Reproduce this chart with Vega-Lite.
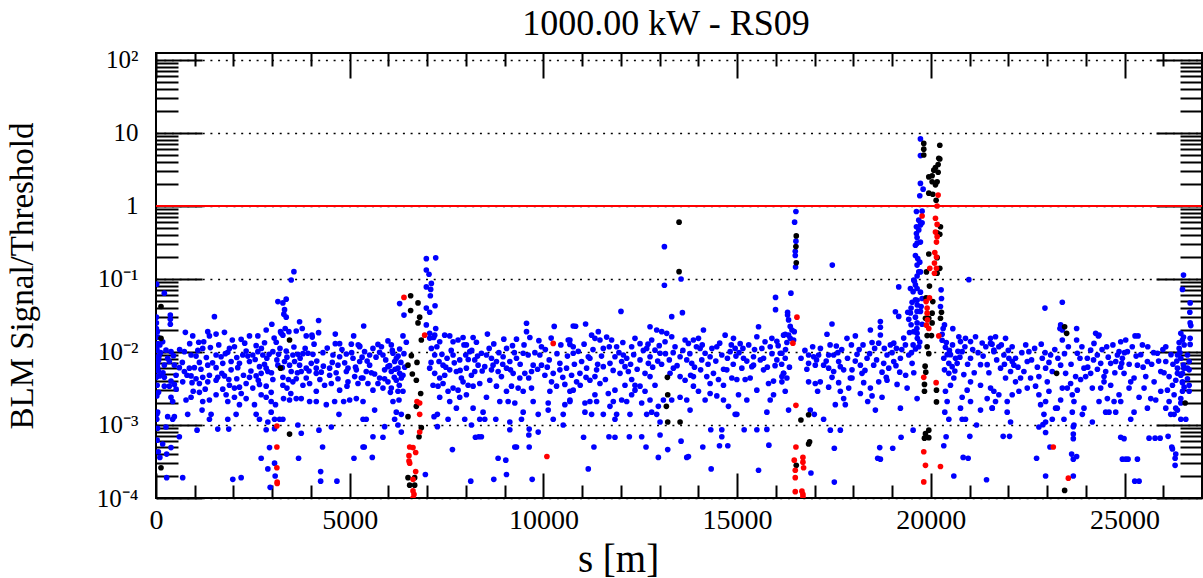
{
"$schema":"https://vega.github.io/schema/vega-lite/v6.json",
"width":1046,"height":445,
"autosize":{"type":"none"},
"padding":{"left":156,"top":53,"right":1,"bottom":80},
"background":"white",
"config":{"view":{"stroke":"black","strokeWidth":2},"axis":{"labelFont":"Liberation Serif","labelFontSize":25,"labelColor":"black","tickColor":"black","titleFont":"Liberation Serif","titleFontSize":33,"titleFontWeight":"normal","titleColor":"black","domain":false,"grid":false}},
"title":{"text":"1000.00 kW - RS09","font":"Liberation Serif","fontSize":36,"fontWeight":"normal","color":"black","anchor":"middle","offset":5,"dx":-13},
"datasets":{
"blue":[
{"s":17,"v":0.085},{"s":215,"v":0.064},{"s":370,"v":0.032},{"s":370,"v":0.028},{"s":370,"v":0.024},{"s":10,"v":0.030},{"s":10,"v":0.025},{"s":10,"v":0.021},{"s":1508,"v":0.0305},{"s":3560,"v":0.126},{"s":3490,"v":0.097},{"s":3146,"v":0.049},{"s":3275,"v":0.047},{"s":3361,"v":0.053},{"s":3318,"v":0.038},{"s":3361,"v":0.030},{"s":3300,"v":0.033},{"s":3706,"v":0.026},{"s":3335,"v":0.021},{"s":3215,"v":0.019},{"s":3275,"v":0.017},
{"s":758,"v":0.0186},{"s":948,"v":0.0166},{"s":1103,"v":0.0136},{"s":1232,"v":0.0138},{"s":1336,"v":0.019},{"s":1379,"v":0.0166},{"s":1551,"v":0.0176},{"s":1767,"v":0.0186},{"s":2025,"v":0.0118},{"s":2198,"v":0.0149},{"s":2413,"v":0.0166},{"s":2629,"v":0.0166},{"s":2801,"v":0.0134},{"s":2844,"v":0.020},{"s":2990,"v":0.024},{"s":3103,"v":0.0136},{"s":3232,"v":0.018},{"s":3430,"v":0.019},{"s":3620,"v":0.0194},{"s":3775,"v":0.021},{"s":3878,"v":0.0166},{"s":4025,"v":0.0171},{"s":4197,"v":0.027},{"s":4197,"v":0.0184},{"s":4033,"v":0.016},{"s":4309,"v":0.0098},{"s":4628,"v":0.0176},{"s":4740,"v":0.013},{"s":5102,"v":0.0166},{"s":5258,"v":0.0121},{"s":5361,"v":0.0227},{"s":4628,"v":0.013},{"s":5042,"v":0.0128},{"s":2585,"v":0.0122},{"s":2327,"v":0.0103},
{"s":172,"v":0.0138},{"s":17,"v":0.0112},{"s":258,"v":0.0106},{"s":387,"v":0.0101},{"s":732,"v":0.0101},{"s":905,"v":0.0091},{"s":1034,"v":0.0088},{"s":1206,"v":0.0112},{"s":1404,"v":0.0115},{"s":1551,"v":0.0091},{"s":1680,"v":0.0086},{"s":1853,"v":0.0099},{"s":1896,"v":0.0112},{"s":2085,"v":0.0084},{"s":2240,"v":0.0091},{"s":2370,"v":0.0088},{"s":2499,"v":0.0091},{"s":2629,"v":0.0101},{"s":2758,"v":0.0091},{"s":2861,"v":0.0082},{"s":3016,"v":0.0101},{"s":3163,"v":0.0093},{"s":3361,"v":0.0103},{"s":3533,"v":0.0091},{"s":3663,"v":0.0093},{"s":3792,"v":0.0095},{"s":3921,"v":0.0096},{"s":4051,"v":0.0093},{"s":4568,"v":0.0091},{"s":4740,"v":0.0086},{"s":4913,"v":0.0094},{"s":5085,"v":0.0082},{"s":5258,"v":0.0074},
{"s":43,"v":0.0070},{"s":215,"v":0.0066},{"s":344,"v":0.0074},{"s":474,"v":0.0066},{"s":603,"v":0.0061},{"s":861,"v":0.0060},{"s":991,"v":0.0061},{"s":1120,"v":0.0072},{"s":1336,"v":0.0066},{"s":1551,"v":0.0061},{"s":1723,"v":0.0070},{"s":1939,"v":0.0074},{"s":2154,"v":0.0070},{"s":2413,"v":0.0074},{"s":2671,"v":0.0063},{"s":2844,"v":0.0060},{"s":3146,"v":0.0066},{"s":3318,"v":0.0074},{"s":3447,"v":0.0066},{"s":3577,"v":0.0074},{"s":3706,"v":0.0066},{"s":3878,"v":0.0060},{"s":4008,"v":0.0070},{"s":4137,"v":0.0060},{"s":4482,"v":0.0060},{"s":4697,"v":0.0066},{"s":4956,"v":0.0060},{"s":5171,"v":0.0057},
{"s":10,"v":0.0046},{"s":215,"v":0.0045},{"s":387,"v":0.0040},{"s":517,"v":0.0048},{"s":732,"v":0.0054},{"s":905,"v":0.0047},{"s":1034,"v":0.0043},{"s":1206,"v":0.0045},{"s":1379,"v":0.0048},{"s":1594,"v":0.0045},{"s":1767,"v":0.0047},{"s":1939,"v":0.0057},{"s":2085,"v":0.0043},{"s":2258,"v":0.0048},{"s":2413,"v":0.0045},{"s":2585,"v":0.0047},{"s":2715,"v":0.0051},{"s":2887,"v":0.0054},{"s":3016,"v":0.0042},{"s":3275,"v":0.0045},{"s":3490,"v":0.0054},{"s":3620,"v":0.0043},{"s":3749,"v":0.0054},{"s":3878,"v":0.0044},{"s":4137,"v":0.0051},{"s":4266,"v":0.0053},{"s":4482,"v":0.0048},{"s":4697,"v":0.0043},{"s":4913,"v":0.0054},{"s":5128,"v":0.0046},{"s":5300,"v":0.0044},
{"s":215,"v":0.0034},{"s":344,"v":0.0034},{"s":474,"v":0.0036},{"s":689,"v":0.0039},{"s":930,"v":0.0038},{"s":1120,"v":0.0037},{"s":1336,"v":0.0039},{"s":1551,"v":0.0041},{"s":1723,"v":0.0031},{"s":1896,"v":0.0035},{"s":2025,"v":0.0032},{"s":2154,"v":0.0033},{"s":2327,"v":0.0037},{"s":2499,"v":0.0032},{"s":2671,"v":0.0036},{"s":2844,"v":0.0034},{"s":2973,"v":0.0028},{"s":3275,"v":0.0035},{"s":3533,"v":0.0039},{"s":3792,"v":0.0035},{"s":3965,"v":0.0037},{"s":4137,"v":0.0029},{"s":4352,"v":0.0035},{"s":4525,"v":0.0037},{"s":4740,"v":0.0030},{"s":4956,"v":0.0039},{"s":5214,"v":0.0037},
{"s":387,"v":0.0024},{"s":430,"v":0.0021},{"s":775,"v":0.0022},{"s":905,"v":0.0024},{"s":1120,"v":0.0028},{"s":1206,"v":0.0021},{"s":1379,"v":0.0022},{"s":1551,"v":0.0026},{"s":1810,"v":0.0026},{"s":1853,"v":0.0021},{"s":2025,"v":0.0024},{"s":2154,"v":0.0019},{"s":2327,"v":0.0023},{"s":2542,"v":0.0019},{"s":2715,"v":0.0026},{"s":2844,"v":0.0024},{"s":2973,"v":0.0021},{"s":3085,"v":0.0019},{"s":3292,"v":0.0023},{"s":3447,"v":0.0022},{"s":3620,"v":0.0023},{"s":3749,"v":0.0023},{"s":3965,"v":0.0021},{"s":4137,"v":0.0021},{"s":4396,"v":0.0019},{"s":4611,"v":0.0021},{"s":4844,"v":0.0021},{"s":4999,"v":0.0022},{"s":5171,"v":0.0023},{"s":5344,"v":0.0021},
{"s":43,"v":0.0015},{"s":301,"v":0.0013},{"s":430,"v":0.0012},{"s":474,"v":0.0013},{"s":818,"v":0.0014},{"s":1189,"v":0.0016},{"s":1379,"v":0.0012},{"s":1422,"v":0.0014},{"s":1853,"v":0.0012},{"s":2068,"v":0.0014},{"s":2585,"v":0.0014},{"s":2671,"v":0.0012},{"s":2887,"v":0.0011},{"s":2973,"v":0.0015},{"s":3060,"v":0.0012},{"s":3189,"v":0.0012},{"s":3275,"v":0.0012},{"s":3663,"v":0.0010},{"s":3749,"v":0.00077},{"s":4206,"v":0.00085},{"s":4525,"v":0.00094},{"s":4723,"v":0.0014},{"s":5344,"v":0.0012},{"s":258,"v":0.00094},{"s":1060,"v":0.00085},{"s":1594,"v":0.00088},{"s":1878,"v":0.00088},{"s":2844,"v":0.00086},{"s":3060,"v":0.00089},
{"s":603,"v":0.00069},{"s":172,"v":0.00055},{"s":387,"v":0.00049},{"s":275,"v":0.0004},{"s":275,"v":0.00019},{"s":689,"v":0.00019},{"s":1982,"v":0.00018},{"s":2198,"v":0.00019},{"s":2930,"v":0.00049},{"s":2715,"v":0.00035},{"s":2887,"v":0.00025},{"s":3060,"v":0.0003},{"s":3076,"v":0.0002},{"s":2947,"v":0.00014},{"s":3680,"v":0.00035},{"s":4300,"v":0.0005},{"s":4250,"v":0.00023},{"s":4250,"v":0.00017},{"s":4670,"v":0.00017},{"s":5110,"v":0.00035},{"s":5344,"v":0.0005},
{"s":20,"v":0.0012},{"s":40,"v":0.0009},{"s":10,"v":0.0045},{"s":30,"v":0.0035},{"s":60,"v":0.0055},{"s":15,"v":0.0065},{"s":70,"v":0.0078},{"s":25,"v":0.0105},{"s":50,"v":0.013},{"s":80,"v":0.0088},{"s":10,"v":0.016},{"s":35,"v":0.019},{"s":100,"v":0.0125},{"s":90,"v":0.0047},{"s":65,"v":0.0028},{"s":40,"v":0.0062},{"s":20,"v":0.0014},{"s":30,"v":0.00062},{"s":60,"v":0.00043},{"s":100,"v":0.00036},{"s":20,"v":0.0025},{"s":30,"v":0.006},{"s":40,"v":0.0075},{"s":20,"v":0.0085},{"s":50,"v":0.016},
{"s":5255,"v":0.0118},{"s":5384,"v":0.0101},{"s":5514,"v":0.0091},{"s":5600,"v":0.0112},{"s":5729,"v":0.0127},{"s":5772,"v":0.0099},{"s":5858,"v":0.0091},{"s":5987,"v":0.0142},{"s":6074,"v":0.0125},{"s":6117,"v":0.0096},{"s":6203,"v":0.0082},{"s":6289,"v":0.011},{"s":6375,"v":0.0166},{"s":6461,"v":0.0136},{"s":6160,"v":0.0074},{"s":6246,"v":0.006},{"s":6289,"v":0.0051},{"s":6375,"v":0.0048},{"s":6332,"v":0.0044},{"s":6203,"v":0.0041},{"s":6074,"v":0.0054},{"s":5987,"v":0.0063},{"s":5901,"v":0.0057},{"s":5772,"v":0.0044},{"s":5643,"v":0.005},{"s":5514,"v":0.0066},{"s":5427,"v":0.0054},{"s":5341,"v":0.0044},{"s":5470,"v":0.0037},{"s":5600,"v":0.003},{"s":5729,"v":0.0037},{"s":5858,"v":0.0032},{"s":5987,"v":0.0039},{"s":6074,"v":0.0032},{"s":6246,"v":0.0029},{"s":6375,"v":0.0029},{"s":6117,"v":0.0021},{"s":6203,"v":0.0015},{"s":6332,"v":0.0014},{"s":6160,"v":0.0012},{"s":6246,"v":0.001},{"s":5643,"v":0.0016},{"s":5427,"v":0.0012},{"s":5901,"v":0.00095},{"s":5600,"v":0.00069},{"s":5858,"v":0.00068},{"s":5376,"v":0.0005},{"s":5583,"v":0.00036},{"s":6332,"v":0.0008},{"s":6272,"v":0.0022},
{"s":7065,"v":0.0155},{"s":7168,"v":0.0158},{"s":7323,"v":0.0138},{"s":7452,"v":0.017},{"s":7582,"v":0.0166},{"s":7668,"v":0.0138},{"s":7797,"v":0.0146},{"s":7926,"v":0.0158},{"s":8012,"v":0.0125},{"s":8185,"v":0.0158},{"s":8271,"v":0.0136},{"s":7108,"v":0.0112},{"s":7194,"v":0.0091},{"s":7306,"v":0.0074},{"s":7409,"v":0.0066},{"s":7513,"v":0.0082},{"s":7668,"v":0.0091},{"s":7840,"v":0.0078},{"s":7995,"v":0.0091},{"s":8099,"v":0.0101},{"s":8228,"v":0.0078},{"s":8314,"v":0.0066},{"s":7065,"v":0.006},{"s":7194,"v":0.0051},{"s":7323,"v":0.0044},{"s":7452,"v":0.0048},{"s":7582,"v":0.0057},{"s":7754,"v":0.0054},{"s":7883,"v":0.0044},{"s":8012,"v":0.006},{"s":8142,"v":0.0048},{"s":8228,"v":0.0054},{"s":7151,"v":0.0035},{"s":7280,"v":0.0034},{"s":7409,"v":0.0037},{"s":7539,"v":0.0029},{"s":7668,"v":0.0032},{"s":7797,"v":0.003},{"s":7926,"v":0.0039},{"s":8056,"v":0.0035},{"s":8185,"v":0.0034},{"s":8357,"v":0.0037},{"s":7323,"v":0.0024},{"s":7582,"v":0.0021},{"s":7840,"v":0.0024},{"s":8012,"v":0.0026},{"s":7754,"v":0.0017},{"s":8185,"v":0.0017},{"s":8443,"v":0.0015},{"s":7177,"v":0.0013},{"s":7263,"v":0.0014},{"s":7539,"v":0.0012},{"s":7969,"v":0.0012},{"s":8142,"v":0.001},{"s":8357,"v":0.0012},{"s":7263,"v":0.00095},
{"s":8555,"v":0.0176},{"s":8719,"v":0.0129},{"s":8978,"v":0.015},{"s":9202,"v":0.0122},{"s":9305,"v":0.015},{"s":9564,"v":0.0248},{"s":9564,"v":0.019},{"s":9650,"v":0.0158},{"s":9883,"v":0.0143},{"s":8400,"v":0.0096},{"s":8530,"v":0.0091},{"s":8659,"v":0.0082},{"s":8788,"v":0.0074},{"s":8960,"v":0.0086},{"s":9133,"v":0.0074},{"s":9305,"v":0.0082},{"s":9478,"v":0.0096},{"s":9607,"v":0.0091},{"s":9736,"v":0.0066},{"s":8486,"v":0.0063},{"s":8659,"v":0.0057},{"s":8831,"v":0.0054},{"s":8917,"v":0.0046},{"s":9047,"v":0.006},{"s":9219,"v":0.0051},{"s":9391,"v":0.0044},{"s":9520,"v":0.0051},{"s":9693,"v":0.0054},{"s":8616,"v":0.0041},{"s":8788,"v":0.0034},{"s":9047,"v":0.0029},{"s":9176,"v":0.0034},{"s":9348,"v":0.0032},{"s":9478,"v":0.0029},{"s":9693,"v":0.0032},{"s":8530,"v":0.0024},{"s":8874,"v":0.0021},{"s":9090,"v":0.0021},{"s":9262,"v":0.002},{"s":9478,"v":0.0015},{"s":9736,"v":0.0021},{"s":8486,"v":0.0012},{"s":8771,"v":0.0012},{"s":9133,"v":0.0011},{"s":9133,"v":0.00086},{"s":9434,"v":0.0012},{"s":9633,"v":0.00088},{"s":9624,"v":0.00073},{"s":9866,"v":0.0008},{"s":9866,"v":0.0014},
{"s":10279,"v":0.0224},{"s":10770,"v":0.0227},{"s":10150,"v":0.0078},{"s":10425,"v":0.007},{"s":10597,"v":0.006},{"s":10727,"v":0.0048},{"s":10253,"v":0.0051},{"s":10425,"v":0.0057},{"s":10210,"v":0.0039},{"s":10339,"v":0.0034},{"s":10554,"v":0.0036},{"s":10684,"v":0.0029},{"s":10167,"v":0.0029},{"s":10684,"v":0.0021},{"s":10124,"v":0.002},{"s":10124,"v":0.0016},{"s":10554,"v":0.0019},{"s":10511,"v":0.0014},{"s":10253,"v":0.0012},{"s":10511,"v":0.001},{"s":10770,"v":0.0096},{"s":10684,"v":0.0127},{"s":10641,"v":0.0146},{"s":9908,"v":0.0091},{"s":9951,"v":0.0066},{"s":10038,"v":0.0048},
{"s":7651,"v":0.00046},{"s":8245,"v":0.00068},{"s":8331,"v":0.00069},{"s":8400,"v":0.00069},{"s":8831,"v":0.00035},{"s":9029,"v":0.00033},{"s":9047,"v":0.00021},{"s":9262,"v":0.0005},{"s":9305,"v":0.0005},{"s":9633,"v":0.0005},{"s":8719,"v":0.00018},{"s":9710,"v":0.00018},{"s":8125,"v":0.00017},{"s":6953,"v":0.00021},
{"s":7220,"v":0.195},{"s":6978,"v":0.19},{"s":6978,"v":0.133},{"s":7047,"v":0.116},{"s":7108,"v":0.087},{"s":7090,"v":0.072},{"s":6978,"v":0.078},{"s":7082,"v":0.059},{"s":7203,"v":0.043},{"s":7065,"v":0.035},{"s":6978,"v":0.04},{"s":6289,"v":0.046},{"s":6401,"v":0.032},{"s":6978,"v":0.0235},{"s":7220,"v":0.021},{"s":7065,"v":0.018},{"s":7194,"v":0.017},
{"s":10684,"v":0.0146},{"s":10770,"v":0.0118},{"s":10830,"v":0.0225},{"s":10986,"v":0.0074},{"s":11089,"v":0.0242},{"s":11158,"v":0.0086},{"s":11244,"v":0.017},{"s":11330,"v":0.0154},{"s":11417,"v":0.019},{"s":11460,"v":0.0146},{"s":11546,"v":0.0112},{"s":11632,"v":0.016},{"s":11761,"v":0.0146},{"s":11890,"v":0.0118},{"s":12063,"v":0.0091},{"s":12020,"v":0.0074},{"s":11847,"v":0.0086},{"s":11718,"v":0.007},{"s":11546,"v":0.0063},{"s":11373,"v":0.0057},{"s":11330,"v":0.0046},{"s":11460,"v":0.0037},{"s":11201,"v":0.0041},{"s":11115,"v":0.006},{"s":10943,"v":0.0051},{"s":10856,"v":0.0039},{"s":10770,"v":0.003},{"s":10684,"v":0.0022},{"s":11072,"v":0.002},{"s":11201,"v":0.0021},{"s":11330,"v":0.0026},{"s":11373,"v":0.0021},{"s":11546,"v":0.0014},{"s":11718,"v":0.0018},{"s":11804,"v":0.0021},{"s":12020,"v":0.0022},{"s":12149,"v":0.0021},{"s":11847,"v":0.003},{"s":11977,"v":0.0051},{"s":12192,"v":0.0054},{"s":12278,"v":0.0042},{"s":12364,"v":0.0035},{"s":12106,"v":0.0035},{"s":12278,"v":0.0118},{"s":12364,"v":0.0154},{"s":12494,"v":0.013},{"s":12666,"v":0.0112},{"s":12795,"v":0.0146},{"s":12752,"v":0.0222},{"s":12924,"v":0.02},{"s":13054,"v":0.019},{"s":13183,"v":0.018},{"s":13140,"v":0.0138},{"s":13312,"v":0.0162},{"s":13011,"v":0.0096},{"s":12881,"v":0.0106},{"s":12752,"v":0.0086},{"s":12709,"v":0.007},{"s":12494,"v":0.0078},{"s":12623,"v":0.0051},{"s":12752,"v":0.0046},{"s":12881,"v":0.0035},{"s":12494,"v":0.0034},{"s":12364,"v":0.003},{"s":12623,"v":0.0029},{"s":12752,"v":0.0022},{"s":12537,"v":0.002},{"s":12666,"v":0.0014},{"s":12795,"v":0.0015},{"s":12924,"v":0.0014},{"s":12967,"v":0.0018},{"s":13097,"v":0.0022},{"s":13312,"v":0.0022},{"s":13528,"v":0.0024},{"s":13700,"v":0.0022},{"s":13786,"v":0.0016},{"s":13657,"v":0.0041},{"s":13872,"v":0.0046},{"s":14058,"v":0.0057},{"s":13829,"v":0.007},{"s":13700,"v":0.0078},{"s":13528,"v":0.0086},{"s":13398,"v":0.0118},{"s":13355,"v":0.006},{"s":13269,"v":0.0051},{"s":13528,"v":0.0046},{"s":13743,"v":0.0131},{"s":13657,"v":0.0146},{"s":13872,"v":0.0146},{"s":14002,"v":0.0154},{"s":14131,"v":0.02},{"s":14045,"v":0.0112},{"s":14174,"v":0.0096},{"s":14303,"v":0.0086},{"s":14476,"v":0.0118},{"s":14605,"v":0.0091},{"s":14691,"v":0.017},{"s":14820,"v":0.0101},{"s":14950,"v":0.0112},{"s":14734,"v":0.0057},{"s":14863,"v":0.0044},{"s":14993,"v":0.0042},{"s":15036,"v":0.0026},{"s":15122,"v":0.006},{"s":15208,"v":0.0042},{"s":15337,"v":0.0044},{"s":15423,"v":0.0066},{"s":15509,"v":0.0162},{"s":15423,"v":0.0086},{"s":15553,"v":0.0222},{"s":15639,"v":0.0112},{"s":15682,"v":0.0082},{"s":15854,"v":0.0118},{"s":15897,"v":0.0154},{"s":16026,"v":0.014},{"s":16199,"v":0.017},{"s":16113,"v":0.0096},{"s":16026,"v":0.0078},{"s":16156,"v":0.0046},{"s":15940,"v":0.004},{"s":15811,"v":0.0037},{"s":15682,"v":0.0057},{"s":15509,"v":0.003},{"s":15380,"v":0.0063},{"s":15165,"v":0.0082},{"s":15079,"v":0.013},{"s":14906,"v":0.0154},{"s":14648,"v":0.0035},{"s":14519,"v":0.0042},{"s":14303,"v":0.0027},{"s":14174,"v":0.0022},{"s":14476,"v":0.0025},{"s":14648,"v":0.0022},{"s":14777,"v":0.0018},{"s":14950,"v":0.0014},{"s":15251,"v":0.0022},{"s":15768,"v":0.0015},{"s":15854,"v":0.0022},{"s":15940,"v":0.0026},{"s":16199,"v":0.0051},{"s":14217,"v":0.0046},{"s":14389,"v":0.0051},{"s":14303,"v":0.0037},{"s":14002,"v":0.0029},{"s":13872,"v":0.0034},{"s":14088,"v":0.0078},{"s":12106,"v":0.0063},{"s":12278,"v":0.0026},{"s":11675,"v":0.0027},{"s":12235,"v":0.0014},{"s":11244,"v":0.0014},{"s":11072,"v":0.0015},{"s":11890,"v":0.0014},
{"s":11304,"v":0.0005},{"s":11037,"v":0.00068},{"s":11692,"v":0.00069},{"s":11847,"v":0.00068},{"s":12218,"v":0.00069},{"s":12537,"v":0.00069},{"s":12649,"v":0.0005},{"s":12967,"v":0.00036},{"s":13209,"v":0.00046},{"s":13700,"v":0.00036},{"s":13743,"v":0.00037},{"s":13553,"v":0.0006},{"s":13011,"v":0.00073},{"s":14114,"v":0.0005},{"s":14545,"v":0.00052},{"s":14760,"v":0.00052},{"s":15820,"v":0.00053},{"s":14320,"v":0.00086},{"s":14605,"v":0.00086},{"s":14605,"v":0.00069},{"s":15182,"v":0.00086},{"s":15510,"v":0.00086},{"s":15768,"v":0.00087},{"s":11158,"v":0.00025},{"s":14330,"v":0.00025},{"s":15553,"v":0.00024},{"s":13011,"v":0.0011},{"s":11847,"v":0.0012},{"s":14993,"v":0.0014},
{"s":13123,"v":0.277},{"s":13123,"v":0.082},{"s":13553,"v":0.1},{"s":13312,"v":0.0305},{"s":13588,"v":0.0346},{"s":12002,"v":0.036},{"s":15992,"v":0.056},{"s":15992,"v":0.038},
{"s":16156,"v":0.0096},{"s":16242,"v":0.0082},{"s":16199,"v":0.0051},{"s":16285,"v":0.0044},{"s":16156,"v":0.0039},{"s":16242,"v":0.0029},{"s":16328,"v":0.0016},{"s":16371,"v":0.0154},{"s":16458,"v":0.0146},{"s":16845,"v":0.0091},{"s":16975,"v":0.0086},{"s":17018,"v":0.0066},{"s":17104,"v":0.0091},{"s":16845,"v":0.007},{"s":16845,"v":0.0039},{"s":17018,"v":0.0037},{"s":17078,"v":0.0029},{"s":16889,"v":0.0016},{"s":16992,"v":0.0014},{"s":17233,"v":0.0012},{"s":17320,"v":0.0175},{"s":17449,"v":0.0242},{"s":17561,"v":0.0121},{"s":17363,"v":0.0091},{"s":17492,"v":0.0091},{"s":17621,"v":0.0074},{"s":17664,"v":0.0063},{"s":17750,"v":0.0057},{"s":17836,"v":0.0154},{"s":17966,"v":0.0057},{"s":18052,"v":0.0166},{"s":17923,"v":0.0044},{"s":17880,"v":0.0032},{"s":17750,"v":0.0023},{"s":17664,"v":0.0029},{"s":17621,"v":0.0038},{"s":17363,"v":0.0033},{"s":17535,"v":0.0019},{"s":17793,"v":0.0019},{"s":18095,"v":0.0093},{"s":18224,"v":0.0051},{"s":18267,"v":0.0038},{"s":18181,"v":0.0027},{"s":18371,"v":0.0021},{"s":18440,"v":0.0032},{"s":18483,"v":0.0025},{"s":18569,"v":0.0016},{"s":18698,"v":0.0261},{"s":18698,"v":0.0218},{"s":18483,"v":0.0135},{"s":18440,"v":0.02},{"s":18655,"v":0.0132},{"s":18698,"v":0.0171},{"s":18870,"v":0.0091},{"s":18784,"v":0.007},{"s":18741,"v":0.0053},{"s":18655,"v":0.0039},{"s":18741,"v":0.0024},{"s":18870,"v":0.0041},{"s":18957,"v":0.0125},{"s":19043,"v":0.0132},{"s":19112,"v":0.0112},{"s":19172,"v":0.0307},{"s":19086,"v":0.0356},{"s":19198,"v":0.0053},{"s":19129,"v":0.0036},{"s":19215,"v":0.0017},{"s":19344,"v":0.0125},{"s":19405,"v":0.035},{"s":19474,"v":0.0343},{"s":19431,"v":0.0091},{"s":19517,"v":0.007},{"s":19560,"v":0.0052},{"s":19646,"v":0.0023},{"s":19388,"v":0.0032},{"s":19215,"v":0.0082},{"s":19043,"v":0.0074},{"s":18914,"v":0.006},{"s":18526,"v":0.0066},{"s":18354,"v":0.0082},{"s":18181,"v":0.0066},{"s":17966,"v":0.0044},{"s":17233,"v":0.0066},{"s":17147,"v":0.0039},{"s":17363,"v":0.006},{"s":17492,"v":0.0054},
{"s":20292,"v":0.0145},{"s":20378,"v":0.0116},{"s":20422,"v":0.0092},{"s":20335,"v":0.0082},{"s":20465,"v":0.007},{"s":20551,"v":0.0063},{"s":20353,"v":0.0057},{"s":20465,"v":0.0051},{"s":20594,"v":0.0044},{"s":20508,"v":0.0035},{"s":20378,"v":0.0029},{"s":20422,"v":0.0021},{"s":20361,"v":0.0015},{"s":20465,"v":0.0012},{"s":20766,"v":0.0139},{"s":20895,"v":0.0154},{"s":21025,"v":0.0139},{"s":21154,"v":0.0162},{"s":21326,"v":0.0133},{"s":21542,"v":0.0154},{"s":21628,"v":0.0106},{"s":20809,"v":0.0101},{"s":21025,"v":0.0082},{"s":21283,"v":0.0067},{"s":21455,"v":0.0067},{"s":20680,"v":0.007},{"s":20852,"v":0.0049},{"s":21025,"v":0.0039},{"s":21283,"v":0.0035},{"s":21542,"v":0.0032},{"s":20938,"v":0.003},{"s":20809,"v":0.0024},{"s":21025,"v":0.0021},{"s":20766,"v":0.0017},{"s":21283,"v":0.0016},{"s":21585,"v":0.0017},{"s":21455,"v":0.0023},{"s":20895,"v":0.0012},{"s":20809,"v":0.0012},{"s":21180,"v":0.001},{"s":21007,"v":0.0007},{"s":20568,"v":0.0209},{"s":20353,"v":0.0235},{"s":20723,"v":0.0162},{"s":20508,"v":0.0092},{"s":20637,"v":0.0082},
{"s":17406,"v":0.00085},{"s":17664,"v":0.00085},{"s":17509,"v":0.00048},{"s":18681,"v":0.00049},{"s":18629,"v":0.00035},{"s":18698,"v":0.00034},{"s":19017,"v":0.00048},{"s":19232,"v":0.00068},{"s":19543,"v":0.00085},{"s":20395,"v":0.00069},{"s":20335,"v":0.00052},{"s":20835,"v":0.00036},{"s":20964,"v":0.00035},{"s":20594,"v":0.0002},{"s":21438,"v":0.000178},{"s":16906,"v":0.00022},{"s":17509,"v":0.000165},
{"s":17457,"v":0.155},{"s":19172,"v":0.078},{"s":19474,"v":0.074},{"s":19491,"v":0.0236},{"s":20982,"v":0.098},
{"s":16518,"v":0.84},{"s":16484,"v":0.6},{"s":16518,"v":0.33},{"s":16501,"v":0.24},{"s":16501,"v":0.21},{"s":16509,"v":0.146},{"s":16389,"v":0.064},{"s":16303,"v":0.035},{"s":16328,"v":0.0275},{"s":16303,"v":0.032},{"s":16371,"v":0.0224},{"s":16415,"v":0.02},{"s":16328,"v":0.017},{"s":16242,"v":0.0175},{"s":16475,"v":0.019},{"s":16285,"v":0.0135},
{"s":19732,"v":8.3},{"s":19732,"v":4.9},{"s":19732,"v":2.04},{"s":19715,"v":1.38},{"s":19801,"v":1.7},{"s":19775,"v":0.85},{"s":19629,"v":0.84},{"s":19689,"v":0.64},{"s":19629,"v":0.52},{"s":19732,"v":0.55},{"s":19775,"v":0.59},{"s":19646,"v":0.31},{"s":19603,"v":0.29},{"s":19732,"v":0.32},{"s":19646,"v":0.37},{"s":19603,"v":0.21},{"s":19646,"v":0.155},{"s":19689,"v":0.125},{"s":19560,"v":0.097},{"s":19646,"v":0.11},{"s":19732,"v":0.125},{"s":19715,"v":0.17},{"s":19663,"v":0.19},{"s":19629,"v":0.42},{"s":19689,"v":0.47},{"s":19577,"v":0.093},{"s":19603,"v":0.083},{"s":19646,"v":0.074},{"s":19543,"v":0.067},{"s":19646,"v":0.051},{"s":19650,"v":0.044},{"s":19646,"v":0.036},{"s":19603,"v":0.03},{"s":19646,"v":0.025},{"s":19640,"v":0.021},{"s":19646,"v":0.018},{"s":19652,"v":0.0154},{"s":19732,"v":0.066},{"s":19775,"v":0.054},{"s":19749,"v":0.042},{"s":19732,"v":0.036},{"s":19775,"v":0.024},{"s":19715,"v":0.0137},{"s":19689,"v":0.0118},{"s":19603,"v":0.052},{"s":19517,"v":0.048},{"s":19491,"v":0.04},{"s":19431,"v":0.028},{"s":19560,"v":0.019},{"s":19543,"v":0.0125},{"s":19603,"v":0.011},{"s":20266,"v":0.071},{"s":20249,"v":0.042},{"s":20318,"v":0.021},{"s":20292,"v":0.0175},{"s":20275,"v":0.054},
{"s":21541,"v":0.0131},{"s":21627,"v":0.0101},{"s":21670,"v":0.0162},{"s":21756,"v":0.0118},{"s":21929,"v":0.0154},{"s":21886,"v":0.0091},{"s":22015,"v":0.0082},{"s":22101,"v":0.0074},{"s":22187,"v":0.0082},{"s":22144,"v":0.0066},{"s":22058,"v":0.0054},{"s":21929,"v":0.0044},{"s":21800,"v":0.006},{"s":21627,"v":0.0029},{"s":21670,"v":0.0021},{"s":21584,"v":0.0017},{"s":21756,"v":0.0026},{"s":21972,"v":0.0021},{"s":22101,"v":0.0026},{"s":22273,"v":0.0029},{"s":21972,"v":0.0015},{"s":22058,"v":0.0011},{"s":22187,"v":0.0039},{"s":22317,"v":0.0044},{"s":22403,"v":0.0054},{"s":22489,"v":0.0074},{"s":22532,"v":0.0101},{"s":22489,"v":0.0032},{"s":22575,"v":0.0044},{"s":22704,"v":0.0034},{"s":22790,"v":0.0046},{"s":22877,"v":0.0082},{"s":22963,"v":0.006},{"s":23006,"v":0.0039},{"s":23092,"v":0.0091},{"s":23135,"v":0.0054},{"s":23049,"v":0.0029},{"s":22963,"v":0.0021},{"s":22834,"v":0.0019},{"s":22790,"v":0.0026},{"s":22920,"v":0.0014},{"s":22963,"v":0.0011},{"s":23135,"v":0.0012},{"s":23221,"v":0.0017},{"s":23351,"v":0.0022},{"s":23394,"v":0.0032},{"s":23480,"v":0.0051},{"s":23351,"v":0.0066},{"s":23523,"v":0.0032},{"s":23609,"v":0.0037},{"s":23652,"v":0.0026},{"s":23695,"v":0.0021},{"s":23781,"v":0.003},{"s":23738,"v":0.0046},{"s":23781,"v":0.0096},{"s":23954,"v":0.006},{"s":23997,"v":0.0046},{"s":24126,"v":0.0051},{"s":24169,"v":0.0032},{"s":24040,"v":0.0082},{"s":24126,"v":0.0106},{"s":24212,"v":0.0131},{"s":24255,"v":0.018},{"s":24342,"v":0.0171},{"s":24298,"v":0.0091},{"s":24385,"v":0.007},{"s":24471,"v":0.0046},{"s":24514,"v":0.0054},{"s":24385,"v":0.0032},{"s":24342,"v":0.0021},{"s":24514,"v":0.0015},{"s":24600,"v":0.0015},{"s":24643,"v":0.007},{"s":24773,"v":0.0074},{"s":24859,"v":0.0101},{"s":24902,"v":0.0138},{"s":25031,"v":0.0146},{"s":24945,"v":0.0082},{"s":25074,"v":0.0101},{"s":25160,"v":0.0039},{"s":25246,"v":0.0044},{"s":25333,"v":0.0066},{"s":25376,"v":0.0024},{"s":25548,"v":0.0046},{"s":25591,"v":0.0074},{"s":25591,"v":0.0017},{"s":25677,"v":0.0023},{"s":25806,"v":0.0022},{"s":25850,"v":0.0096},{"s":25936,"v":0.0054},{"s":26065,"v":0.0118},{"s":26065,"v":0.0074},{"s":26151,"v":0.0046},{"s":26108,"v":0.003},{"s":26151,"v":0.0021},{"s":26065,"v":0.0017},{"s":26194,"v":0.0014},{"s":26323,"v":0.0017},{"s":26280,"v":0.0026},{"s":26323,"v":0.0041},{"s":26366,"v":0.006},{"s":26366,"v":0.0091},{"s":26410,"v":0.0112},{"s":26453,"v":0.0048},{"s":26496,"v":0.0039},{"s":26539,"v":0.006},{"s":26668,"v":0.0074},{"s":26668,"v":0.0057},{"s":26496,"v":0.0029},{"s":26668,"v":0.0029},{"s":26453,"v":0.0023},{"s":26582,"v":0.0012},{"s":26237,"v":0.0035},{"s":25936,"v":0.0029},{"s":25764,"v":0.0039},{"s":25505,"v":0.0032},{"s":25117,"v":0.0032},{"s":24988,"v":0.0051},{"s":24859,"v":0.0026},{"s":24730,"v":0.0021},{"s":24557,"v":0.0023},{"s":24471,"v":0.0039},{"s":24643,"v":0.0035},{"s":23867,"v":0.0042},{"s":23911,"v":0.0014},{"s":23954,"v":0.0017},{"s":24169,"v":0.0011},{"s":23695,"v":0.001},{"s":23437,"v":0.0012},{"s":23264,"v":0.0017},{"s":23652,"v":0.0015},{"s":24773,"v":0.0015},{"s":24902,"v":0.0021},{"s":25246,"v":0.0015},{"s":25462,"v":0.0125},{"s":25272,"v":0.0166},{"s":25350,"v":0.0166},{"s":24816,"v":0.0091},{"s":24928,"v":0.007},{"s":24540,"v":0.0118},{"s":24325,"v":0.0166},
{"s":23394,"v":0.048},{"s":22946,"v":0.04},{"s":23351,"v":0.0235},{"s":23394,"v":0.02},{"s":23333,"v":0.021},{"s":23394,"v":0.0146},{"s":23764,"v":0.021},{"s":23764,"v":0.0146},{"s":23075,"v":0.0005},{"s":22963,"v":0.0002},{"s":23678,"v":0.0002},{"s":22730,"v":0.00035},{"s":23635,"v":0.0004},{"s":23764,"v":0.00037},{"s":23678,"v":0.00034},{"s":24945,"v":0.00034},{"s":25031,"v":0.00034},{"s":25091,"v":0.00034},{"s":25333,"v":0.00034},{"s":25264,"v":0.00017},{"s":25376,"v":0.00017},{"s":24902,"v":0.00068},{"s":24988,"v":0.00065},{"s":25634,"v":0.00066},{"s":25789,"v":0.00066},{"s":25919,"v":0.00066},{"s":26125,"v":0.0007},{"s":26220,"v":0.0005},{"s":26237,"v":0.00047},{"s":26323,"v":0.0004},{"s":26306,"v":0.00035},{"s":26306,"v":0.00028},{"s":21868,"v":0.0007},{"s":22032,"v":0.0007},{"s":22963,"v":0.00079},{"s":23678,"v":0.00095},{"s":23678,"v":0.00075},{"s":23678,"v":0.00065},{"s":22790,"v":0.00094},{"s":22894,"v":0.00101},{"s":25160,"v":0.0012},{"s":26453,"v":0.0012},
{"s":26522,"v":0.113},{"s":26496,"v":0.072},{"s":26694,"v":0.047},{"s":26686,"v":0.035},{"s":26694,"v":0.025},{"s":26711,"v":0.023},{"s":26453,"v":0.018},{"s":26522,"v":0.016},{"s":26694,"v":0.0154},{"s":26694,"v":0.0127},{"s":26496,"v":0.0146},{"s":26410,"v":0.0135},{"s":26539,"v":0.0125},{"s":26625,"v":0.0091},{"s":26453,"v":0.0082},{"s":26522,"v":0.0066},{"s":26625,"v":0.006},{"s":26366,"v":0.0051},{"s":26496,"v":0.0051},{"s":26625,"v":0.0043},{"s":26496,"v":0.0038},{"s":26668,"v":0.0035},{"s":26539,"v":0.0033},{"s":26453,"v":0.002},{"s":26366,"v":0.0016},{"s":26280,"v":0.0014},
{"s":120,"v":0.0098},{"s":180,"v":0.0052},{"s":300,"v":0.0082},{"s":450,"v":0.0089},{"s":520,"v":0.0031},{"s":610,"v":0.0108},{"s":680,"v":0.0072},{"s":800,"v":0.0048},{"s":870,"v":0.013},{"s":960,"v":0.0029},
{"s":1080,"v":0.0105},{"s":1160,"v":0.0058},{"s":1270,"v":0.0031},{"s":1300,"v":0.0084},{"s":1460,"v":0.0071},{"s":1620,"v":0.0125},{"s":1700,"v":0.0051},{"s":1790,"v":0.0095},{"s":1880,"v":0.0042},{"s":1970,"v":0.0146},
{"s":2110,"v":0.0061},{"s":2200,"v":0.0027},{"s":2290,"v":0.0132},{"s":2450,"v":0.0055},{"s":2560,"v":0.0079},{"s":2640,"v":0.0041},{"s":2720,"v":0.0112},{"s":2800,"v":0.0068},{"s":2920,"v":0.0093},{"s":2980,"v":0.0052},
{"s":3050,"v":0.0155},{"s":3120,"v":0.0078},{"s":3200,"v":0.0112},{"s":3260,"v":0.0061},{"s":3380,"v":0.0085},{"s":3420,"v":0.0042},{"s":3560,"v":0.0117},{"s":3650,"v":0.0052},{"s":3720,"v":0.0082},{"s":3850,"v":0.0112},{"s":3950,"v":0.0055},{"s":3380,"v":0.0032},{"s":3480,"v":0.0027},
{"s":4080,"v":0.0128},{"s":4150,"v":0.0075},{"s":4230,"v":0.0042},{"s":4320,"v":0.0064},{"s":4420,"v":0.0113},{"s":4550,"v":0.0072},{"s":4650,"v":0.0052},{"s":4800,"v":0.0108},{"s":4870,"v":0.0071},{"s":4930,"v":0.0034},
{"s":5050,"v":0.0098},{"s":5150,"v":0.0062},{"s":5220,"v":0.0125},{"s":5320,"v":0.0085},{"s":5450,"v":0.0075},{"s":5560,"v":0.0052},{"s":5680,"v":0.0085},{"s":5820,"v":0.0118},{"s":5930,"v":0.0078},{"s":6030,"v":0.0065},{"s":6100,"v":0.0105},{"s":6170,"v":0.0058},{"s":6250,"v":0.0088},{"s":6320,"v":0.0072},{"s":6400,"v":0.0095},{"s":6420,"v":0.0062},{"s":6280,"v":0.0035},{"s":6150,"v":0.0045},{"s":6050,"v":0.0028},{"s":5900,"v":0.0043},
{"s":7100,"v":0.0072},{"s":7250,"v":0.0118},{"s":7380,"v":0.0093},{"s":7480,"v":0.0062},{"s":7620,"v":0.0105},{"s":7700,"v":0.0071},{"s":7850,"v":0.0056},{"s":7950,"v":0.0125},{"s":8060,"v":0.0079},{"s":8150,"v":0.0105},{"s":8300,"v":0.0088},{"s":8420,"v":0.0055},
{"s":8600,"v":0.0112},{"s":8700,"v":0.0066},{"s":8850,"v":0.0098},{"s":8950,"v":0.0068},{"s":9050,"v":0.0112},{"s":9150,"v":0.0057},{"s":9250,"v":0.0098},{"s":9400,"v":0.0068},{"s":9500,"v":0.0125},{"s":9620,"v":0.0044},{"s":9780,"v":0.0098},{"s":9850,"v":0.0058},{"s":9950,"v":0.0118},
{"s":10050,"v":0.0108},{"s":10100,"v":0.0062},{"s":10200,"v":0.0155},{"s":10350,"v":0.0095},{"s":10450,"v":0.0125},{"s":10500,"v":0.0045},{"s":10620,"v":0.0088},{"s":10800,"v":0.0068},{"s":10900,"v":0.0102},{"s":10950,"v":0.0035},
{"s":11050,"v":0.0128},{"s":11100,"v":0.0045},{"s":11200,"v":0.0082},{"s":11280,"v":0.0108},{"s":11400,"v":0.0068},{"s":11500,"v":0.0088},{"s":11600,"v":0.0042},{"s":11700,"v":0.0118},{"s":11800,"v":0.0056},{"s":11950,"v":0.0098},
{"s":12050,"v":0.0135},{"s":12150,"v":0.0082},{"s":12250,"v":0.0068},{"s":12330,"v":0.0092},{"s":12420,"v":0.0058},{"s":12580,"v":0.0105},{"s":12700,"v":0.0128},{"s":12820,"v":0.0062},{"s":12950,"v":0.0075},{"s":12990,"v":0.0122},
{"s":13050,"v":0.0068},{"s":13150,"v":0.0095},{"s":13250,"v":0.0078},{"s":13350,"v":0.0098},{"s":13450,"v":0.0065},{"s":13600,"v":0.0105},{"s":13780,"v":0.0095},{"s":13900,"v":0.0062},{"s":13950,"v":0.0118},{"s":13800,"v":0.0048},
{"s":14100,"v":0.0125},{"s":14250,"v":0.0068},{"s":14350,"v":0.0112},{"s":14450,"v":0.0075},{"s":14550,"v":0.0132},{"s":14650,"v":0.0058},{"s":14750,"v":0.0082},{"s":14900,"v":0.0068},{"s":14970,"v":0.0088},{"s":14850,"v":0.0125},
{"s":15050,"v":0.0098},{"s":15150,"v":0.0112},{"s":15250,"v":0.0075},{"s":15300,"v":0.0125},{"s":15450,"v":0.0108},{"s":15600,"v":0.0078},{"s":15720,"v":0.0138},{"s":15780,"v":0.0062},{"s":15900,"v":0.0095},{"s":15980,"v":0.0065},
{"s":16060,"v":0.0122},{"s":16150,"v":0.0068},{"s":16250,"v":0.0108},{"s":16350,"v":0.0062},
{"s":16650,"v":0.0082},{"s":16750,"v":0.0105},{"s":16800,"v":0.0058},{"s":16950,"v":0.0118},{"s":17050,"v":0.0078},{"s":17150,"v":0.0112},{"s":17300,"v":0.0075},{"s":17400,"v":0.0125},{"s":17450,"v":0.0045},
{"s":17600,"v":0.0098},{"s":17700,"v":0.0108},{"s":17850,"v":0.0082},{"s":17950,"v":0.0125},{"s":18050,"v":0.0075},{"s":18150,"v":0.0108},{"s":18250,"v":0.0125},{"s":18300,"v":0.0056},{"s":18420,"v":0.0095},{"s":18550,"v":0.0112},{"s":18600,"v":0.0078},{"s":18800,"v":0.0112},{"s":18850,"v":0.0045},{"s":19000,"v":0.0098},{"s":19100,"v":0.0065},{"s":19250,"v":0.0108},{"s":19300,"v":0.0155},{"s":19350,"v":0.0048},{"s":19450,"v":0.0185},{"s":19500,"v":0.0098},
{"s":20400,"v":0.0135},{"s":20480,"v":0.0105},{"s":20560,"v":0.0125},{"s":20620,"v":0.0055},{"s":20700,"v":0.0102},{"s":20750,"v":0.0085},{"s":20880,"v":0.0118},{"s":20950,"v":0.0068},{"s":21080,"v":0.0108},{"s":21120,"v":0.0052},{"s":21220,"v":0.0098},{"s":21350,"v":0.0088},{"s":21420,"v":0.0118},{"s":21500,"v":0.0052},{"s":21580,"v":0.0128},
{"s":21700,"v":0.0078},{"s":21820,"v":0.0125},{"s":21900,"v":0.0068},{"s":22000,"v":0.0105},{"s":22100,"v":0.0118},{"s":22250,"v":0.0062},{"s":22350,"v":0.0098},{"s":22450,"v":0.0125},{"s":22600,"v":0.0078},{"s":22680,"v":0.0112},{"s":22750,"v":0.0062},{"s":22850,"v":0.0128},{"s":22950,"v":0.0098},
{"s":23050,"v":0.0072},{"s":23200,"v":0.0108},{"s":23280,"v":0.0082},{"s":23450,"v":0.0095},{"s":23550,"v":0.0118},{"s":23620,"v":0.0068},{"s":23850,"v":0.0082},{"s":23900,"v":0.0118},{"s":24050,"v":0.0062},{"s":24200,"v":0.0078},{"s":24300,"v":0.0058},{"s":24420,"v":0.0108},
{"s":24580,"v":0.0085},{"s":24700,"v":0.0125},{"s":24750,"v":0.0052},{"s":24900,"v":0.0062},{"s":25000,"v":0.0098},{"s":25120,"v":0.0068},{"s":25200,"v":0.0118},{"s":25300,"v":0.0088},{"s":25420,"v":0.0092},{"s":25480,"v":0.0062},{"s":25600,"v":0.0118},{"s":25700,"v":0.0068},{"s":25750,"v":0.0098},{"s":25880,"v":0.0075},{"s":25990,"v":0.0108},{"s":26020,"v":0.0052},{"s":26200,"v":0.0092},{"s":26250,"v":0.0068},{"s":26350,"v":0.0075},{"s":26430,"v":0.0098}
],
"black":[
{"s":129,"v":0.042},{"s":129,"v":0.0154},{"s":3447,"v":0.0146},{"s":3214,"v":0.006},{"s":3447,"v":0.00075},{"s":129,"v":0.00026},
{"s":6573,"v":0.059},{"s":6763,"v":0.047},{"s":6573,"v":0.037},{"s":6806,"v":0.03},{"s":6763,"v":0.025},{"s":6849,"v":0.0146},{"s":6591,"v":0.0089},{"s":6737,"v":0.0072},{"s":6504,"v":0.0066},{"s":6617,"v":0.005},{"s":6720,"v":0.0041},{"s":6832,"v":0.0027},{"s":6720,"v":0.0018},{"s":6505,"v":0.0013},{"s":6849,"v":0.00092},{"s":6789,"v":0.00069},{"s":6505,"v":0.00019},{"s":6677,"v":0.00019},{"s":6548,"v":0.00015},{"s":6677,"v":0.00015},
{"s":13502,"v":0.6},{"s":13502,"v":0.126},{"s":13200,"v":0.0045},{"s":13209,"v":0.0026},{"s":13174,"v":0.0018},{"s":13209,"v":0.0011},{"s":13528,"v":0.0011},
{"s":16527,"v":0.389},{"s":16518,"v":0.278},{"s":16527,"v":0.167},{"s":16647,"v":0.00117},{"s":16845,"v":0.00138},{"s":16871,"v":0.00059},{"s":16845,"v":0.00055},{"s":16527,"v":0.00028},
{"s":19818,"v":7.2},{"s":19818,"v":6.0},{"s":19818,"v":5.0},{"s":20232,"v":6.8},{"s":20206,"v":4.5},{"s":20232,"v":4.4},{"s":20189,"v":3.7},{"s":20120,"v":3.35},{"s":20077,"v":3.1},{"s":20189,"v":2.9},{"s":19948,"v":2.5},{"s":20034,"v":2.6},{"s":20034,"v":2.15},{"s":20120,"v":1.95},{"s":20163,"v":2.15},{"s":19948,"v":1.5},{"s":20051,"v":1.45},{"s":20137,"v":1.2},{"s":20249,"v":0.52},{"s":20232,"v":0.41},{"s":20163,"v":0.43},{"s":19948,"v":0.22},{"s":20163,"v":0.196},{"s":20232,"v":0.14},{"s":20163,"v":0.12},{"s":19887,"v":0.125},{"s":19965,"v":0.08},{"s":19879,"v":0.055},{"s":20051,"v":0.049},{"s":19862,"v":0.029},{"s":20034,"v":0.025},{"s":20034,"v":0.034},{"s":19948,"v":0.029},{"s":19905,"v":0.0168},{"s":20017,"v":0.0168},{"s":19905,"v":0.0118},{"s":19948,"v":0.0095},{"s":20275,"v":0.035},{"s":20249,"v":0.029},{"s":19853,"v":0.0064},{"s":19870,"v":0.0053},{"s":19836,"v":0.0036},{"s":19836,"v":0.0029},{"s":20146,"v":0.003},{"s":20146,"v":0.00207},{"s":19948,"v":0.00085},{"s":19862,"v":0.00076},{"s":19948,"v":0.00067},{"s":19836,"v":0.00066},
{"s":23454,"v":0.0222},{"s":23506,"v":0.018},{"s":23247,"v":0.0051},{"s":23454,"v":0.000127},{"s":26565,"v":0.002}
],
"red":[
{"s":3120,"v":0.00097},{"s":3120,"v":0.0005},{"s":3120,"v":0.00026},{"s":3128,"v":0.000165},{"s":3128,"v":0.000158},
{"s":6401,"v":0.056},{"s":6935,"v":0.017},{"s":6737,"v":0.0021},{"s":6806,"v":0.002},{"s":6806,"v":0.0014},{"s":6806,"v":0.0008},{"s":6548,"v":0.0005},{"s":6634,"v":0.00049},{"s":6703,"v":0.00042},{"s":6530,"v":0.00038},{"s":6530,"v":0.00032},{"s":6548,"v":0.0003},{"s":6703,"v":0.00023},{"s":6634,"v":0.00018},{"s":6634,"v":0.000125},{"s":6660,"v":0.000112},{"s":6634,"v":0.0001},{"s":10090,"v":0.00037},{"s":10253,"v":0.0131},
{"s":16544,"v":0.03},{"s":16440,"v":0.0132},{"s":16518,"v":0.00186},{"s":16518,"v":0.0005},{"s":16475,"v":0.00033},{"s":16501,"v":0.00024},{"s":16501,"v":0.00019},{"s":16699,"v":0.00036},{"s":16699,"v":0.00031},{"s":16716,"v":0.00026},{"s":16501,"v":0.000122},{"s":16673,"v":0.000124},{"s":16699,"v":0.000112},{"s":16699,"v":0.000103},
{"s":20189,"v":1.41},{"s":20163,"v":1.0},{"s":19775,"v":0.73},{"s":20120,"v":0.68},{"s":20163,"v":0.56},{"s":20120,"v":0.44},{"s":20163,"v":0.38},{"s":20146,"v":0.32},{"s":20103,"v":0.23},{"s":20146,"v":0.2},{"s":20094,"v":0.165},{"s":20146,"v":0.14},{"s":20094,"v":0.12},{"s":19974,"v":0.14},{"s":19965,"v":0.055},{"s":19879,"v":0.049},{"s":19905,"v":0.04},{"s":19905,"v":0.034},{"s":19913,"v":0.0275},{"s":19887,"v":0.0233},{"s":19948,"v":0.021},{"s":20206,"v":0.0166},{"s":20137,"v":0.0038},{"s":19818,"v":0.0045},{"s":19818,"v":0.00043},{"s":19862,"v":0.00028},{"s":19818,"v":0.000166},{"s":20249,"v":0.00027},
{"s":23161,"v":0.0005},{"s":23550,"v":0.000187}
]
},
"resolve":{"axis":{"x":"independent","y":"independent"}},
"layer":[
{"data":{"name":"blue"},"mark":{"type":"circle","size":32,"opacity":1,"color":"#0000ff","clip":true},
 "encoding":{
  "x":{"field":"s","type":"quantitative","scale":{"domain":[0,27000],"nice":false,"zero":false},
   "axis":{"orient":"bottom","values":[0,5000,10000,15000,20000,25000],"format":"d","labelFlush":false,"tickSize":-25,"tickWidth":2,"labelPadding":33,"labelFontSize":28,"title":"s [m]","titleFontSize":39,"titleX":462,"titlePadding":6}},
  "y":{"field":"v","type":"quantitative","scale":{"type":"log","domain":[0.0001,124.7],"nice":false},
   "axis":{"orient":"left","values":[0.0001,0.001,0.01,0.1,1,10,100],"tickSize":-46,"tickWidth":2,"labelPadding":64,"grid":true,"gridColor":"black","gridDash":[2,5.7],"gridWidth":1.5,"title":"BLM Signal/Threshold","titlePadding":57,
    "labelExpr":"datum.value >= 50 ? '10²' : datum.value >= 5 ? '10' : datum.value >= 0.5 ? '1' : datum.value >= 0.05 ? '10⁻¹' : datum.value >= 0.005 ? '10⁻²' : datum.value >= 0.0005 ? '10⁻³' : '10⁻⁴'"}}}},
{"data":{"values":[{"k":1}]},"mark":{"type":"rule","color":"#ff0000","strokeWidth":2},
 "encoding":{"y":{"datum":1,"type":"quantitative","axis":null}}},
{"data":{"name":"black"},"mark":{"type":"circle","size":32,"opacity":1,"color":"#000000","clip":true},
 "encoding":{
  "x":{"field":"s","type":"quantitative","axis":{"orient":"top","values":[0,5000,10000,15000,20000,25000],"tickSize":-25,"tickWidth":2,"labels":false,"title":null}},
  "y":{"field":"v","type":"quantitative","axis":{"orient":"right","values":[0.0001,0.001,0.01,0.1,1,10,100],"tickSize":-46,"tickWidth":2,"labels":false,"title":null}}}},
{"data":{"name":"red"},"mark":{"type":"circle","size":32,"opacity":1,"color":"#ff0000","clip":true},
 "encoding":{
  "x":{"field":"s","type":"quantitative","axis":{"orient":"bottom","values":[1000,2000,3000,4000,6000,7000,8000,9000,11000,12000,13000,14000,16000,17000,18000,19000,21000,22000,23000,24000,26000],"tickSize":-13,"tickWidth":2,"labels":false,"title":null}},
  "y":{"field":"v","type":"quantitative","axis":{"orient":"left","values":[0.0002,0.0003,0.0004,0.0005,0.0006,0.0007,0.0008,0.0009,0.002,0.003,0.004,0.005,0.006,0.007,0.008,0.009,0.02,0.03,0.04,0.05,0.06,0.07,0.08,0.09,0.2,0.3,0.4,0.5,0.6,0.7,0.8,0.9,2,3,4,5,6,7,8,9,20,30,40,50,60,70,80,90],"tickSize":-22,"tickWidth":2,"labels":false,"title":null}}}},
{"data":{"name":"black"},"mark":{"type":"circle","size":32,"opacity":0},
 "encoding":{
  "x":{"field":"s","type":"quantitative","axis":{"orient":"top","values":[1000,2000,3000,4000,6000,7000,8000,9000,11000,12000,13000,14000,16000,17000,18000,19000,21000,22000,23000,24000,26000],"tickSize":-13,"tickWidth":2,"labels":false,"title":null}},
  "y":{"field":"v","type":"quantitative","axis":{"orient":"right","values":[0.0002,0.0003,0.0004,0.0005,0.0006,0.0007,0.0008,0.0009,0.002,0.003,0.004,0.005,0.006,0.007,0.008,0.009,0.02,0.03,0.04,0.05,0.06,0.07,0.08,0.09,0.2,0.3,0.4,0.5,0.6,0.7,0.8,0.9,2,3,4,5,6,7,8,9,20,30,40,50,60,70,80,90],"tickSize":-22,"tickWidth":2,"labels":false,"title":null}}}}
]
}
